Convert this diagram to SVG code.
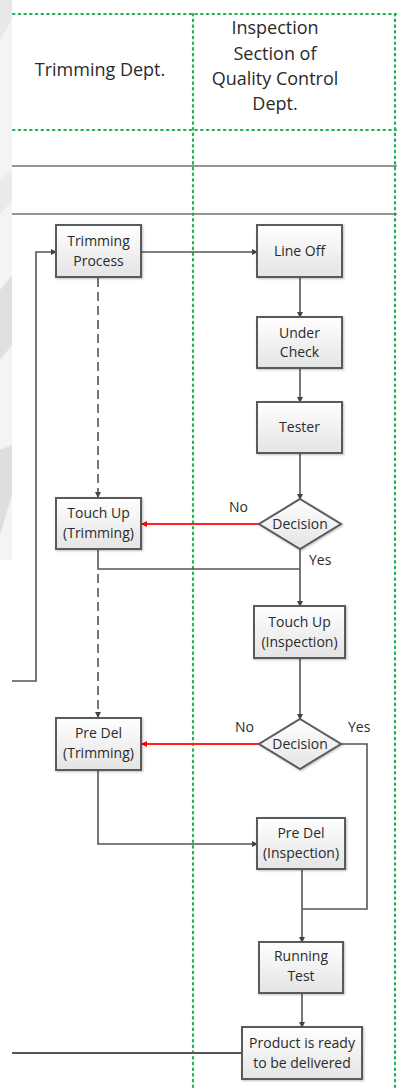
<svg xmlns="http://www.w3.org/2000/svg" width="397" height="1091" viewBox="0 0 397 1091">
<defs>
<linearGradient id="bg" x1="0" y1="0" x2="0" y2="1">
<stop offset="0" stop-color="#ffffff"/>
<stop offset="1" stop-color="#e4e4e4"/>
</linearGradient>
<marker id="ah" markerWidth="6" markerHeight="6" refX="5" refY="3" orient="auto" markerUnits="userSpaceOnUse">
<path d="M0,0 L6,3 L0,6 Z" fill="#444"/>
</marker>
<marker id="ahr" markerWidth="6" markerHeight="6" refX="5" refY="3" orient="auto" markerUnits="userSpaceOnUse">
<path d="M0,0 L6,3 L0,6 Z" fill="#ff0000"/>
</marker>
<filter id="sh" x="-10%" y="-10%" width="130%" height="130%">
<feDropShadow dx="1" dy="1" stdDeviation="0.8" flood-color="#000" flood-opacity="0.25"/>
</filter>
</defs>
<style>
.box{fill:url(#bg);stroke:#5a5a5a;stroke-width:2;filter:url(#sh)}
.t{font-family:"Open Sans","Liberation Sans",sans-serif;font-size:14px;fill:#2a2a2a;text-anchor:middle}
.h{font-family:"Open Sans","Liberation Sans",sans-serif;font-size:18px;fill:#2a2a2a;text-anchor:middle}
.lbl{font-family:"Open Sans","Liberation Sans",sans-serif;font-size:14px;fill:#2a2a2a}
.dot{stroke:#22b05a;stroke-width:2.2;stroke-dasharray:1.5 4.2;stroke-linecap:round;fill:none}
.sep{stroke:#707070;stroke-width:1.6;fill:none}
.c{stroke:#555;stroke-width:1.6;fill:none}
.r{stroke:#ff2020;stroke-width:1.8;fill:none}
.d{stroke:#666;stroke-width:1.8;stroke-dasharray:9 5;fill:none}
</style>
<rect width="397" height="1091" fill="#ffffff"/>
<g id="watermark">
<rect x="0" y="0" width="12" height="560" fill="#f4f4f4"/>
<path d="M0,0 L12,0 L12,20 L0,40 Z" fill="#e8e8e8"/>
<path d="M0,180 L12,170 L12,200 L0,215 Z" fill="#eaeaea"/>
<path d="M0,290 L12,275 L12,345 L0,360 Z" fill="#e0e0e0"/>
<path d="M0,450 L12,445 L12,495 L0,535 Z" fill="#dedede"/>
</g>
<g id="swimlanes">
<line class="dot" x1="13" y1="14" x2="396" y2="14"/>
<line class="dot" x1="13" y1="130" x2="396" y2="130"/>
<line class="dot" x1="193" y1="14" x2="193" y2="1091"/>
<line class="dot" x1="395" y1="14" x2="395" y2="1091"/>
<line class="sep" x1="12" y1="166" x2="397" y2="166"/>
<line class="sep" x1="12" y1="214" x2="397" y2="214"/>
<text class="h" x="100" y="75.5">Trimming Dept.</text>
<text class="h" x="275" y="33.5">Inspection</text>
<text class="h" x="275" y="59.5">Section of</text>
<text class="h" x="275" y="84.5">Quality Control</text>
<text class="h" x="275" y="109.5">Dept.</text>
</g>
<g id="connectors">
<line class="c" x1="141" y1="252" x2="257" y2="252" marker-end="url(#ah)"/>
<polyline class="c" points="12,681 36,681 36,252 56,252" marker-end="url(#ah)"/>
<line class="d" x1="98" y1="278" x2="98" y2="497" marker-end="url(#ah)"/>
<line class="c" x1="300" y1="277" x2="300" y2="317" marker-end="url(#ah)"/>
<line class="c" x1="300" y1="368" x2="300" y2="402" marker-end="url(#ah)"/>
<line class="c" x1="300" y1="453" x2="300" y2="499" marker-end="url(#ah)"/>
<line class="r" x1="259" y1="524" x2="142" y2="524" marker-end="url(#ahr)"/>
<line class="c" x1="300" y1="549" x2="300" y2="606" marker-end="url(#ah)"/>
<polyline class="c" points="98,549 98,569 300,569"/>
<line class="d" x1="98" y1="574" x2="98" y2="717" marker-end="url(#ah)"/>
<line class="c" x1="300" y1="658" x2="300" y2="719" marker-end="url(#ah)"/>
<line class="r" x1="259" y1="744" x2="142" y2="744" marker-end="url(#ahr)"/>
<polyline class="c" points="341,744 367,744 367,909 302,909"/>
<polyline class="c" points="98,770 98,844 257,844" marker-end="url(#ah)"/>
<line class="c" x1="302" y1="869" x2="302" y2="942" marker-end="url(#ah)"/>
<line class="c" x1="302" y1="993" x2="302" y2="1027" marker-end="url(#ah)"/>
<line class="c" x1="242" y1="1053" x2="12" y2="1053" style="stroke-width:2"/>
<text class="lbl" x="229" y="512">No</text>
<text class="lbl" x="309" y="565">Yes</text>
<text class="lbl" x="235" y="732">No</text>
<text class="lbl" x="348" y="732">Yes</text>
</g>
<g id="trimming-process">
<rect class="box" x="56" y="225" width="85" height="52"/>
<text class="t" x="98.5" y="246">Trimming</text>
<text class="t" x="98.5" y="266">Process</text>
</g>
<g id="line-off">
<rect class="box" x="257" y="225" width="85" height="52"/>
<text class="t" x="299.5" y="256">Line Off</text>
</g>
<g id="under-check">
<rect class="box" x="257" y="317" width="85" height="51"/>
<text class="t" x="299.5" y="338">Under</text>
<text class="t" x="299.5" y="357">Check</text>
</g>
<g id="tester">
<rect class="box" x="257" y="402" width="85" height="51"/>
<text class="t" x="299.5" y="432">Tester</text>
</g>
<g id="touch-up-trimming">
<rect class="box" x="56" y="498" width="85" height="51"/>
<text class="t" x="98.5" y="518">Touch Up</text>
<text class="t" x="98.5" y="538">(Trimming)</text>
</g>
<g id="decision-1">
<polygon class="box" points="300,499 341,524 300,549 259,524"/>
<text class="t" x="300" y="529">Decision</text>
</g>
<g id="touch-up-inspection">
<rect class="box" x="254" y="606" width="91" height="52"/>
<text class="t" x="299.5" y="627">Touch Up</text>
<text class="t" x="299.5" y="647">(Inspection)</text>
</g>
<g id="decision-2">
<polygon class="box" points="300,719 341,744 300,769 259,744"/>
<text class="t" x="300" y="749">Decision</text>
</g>
<g id="pre-del-trimming">
<rect class="box" x="56" y="718" width="85" height="52"/>
<text class="t" x="98.5" y="738">Pre Del</text>
<text class="t" x="98.5" y="758">(Trimming)</text>
</g>
<g id="pre-del-inspection">
<rect class="box" x="257" y="818" width="88" height="51"/>
<text class="t" x="301" y="838">Pre Del</text>
<text class="t" x="301" y="858">(Inspection)</text>
</g>
<g id="running-test">
<rect class="box" x="259" y="942" width="84" height="51"/>
<text class="t" x="301" y="961">Running</text>
<text class="t" x="301" y="981">Test</text>
</g>
<g id="product-ready">
<rect class="box" x="242" y="1027" width="120" height="52"/>
<text class="t" x="302" y="1048">Product is ready</text>
<text class="t" x="302" y="1068">to be delivered</text>
</g>
</svg>
